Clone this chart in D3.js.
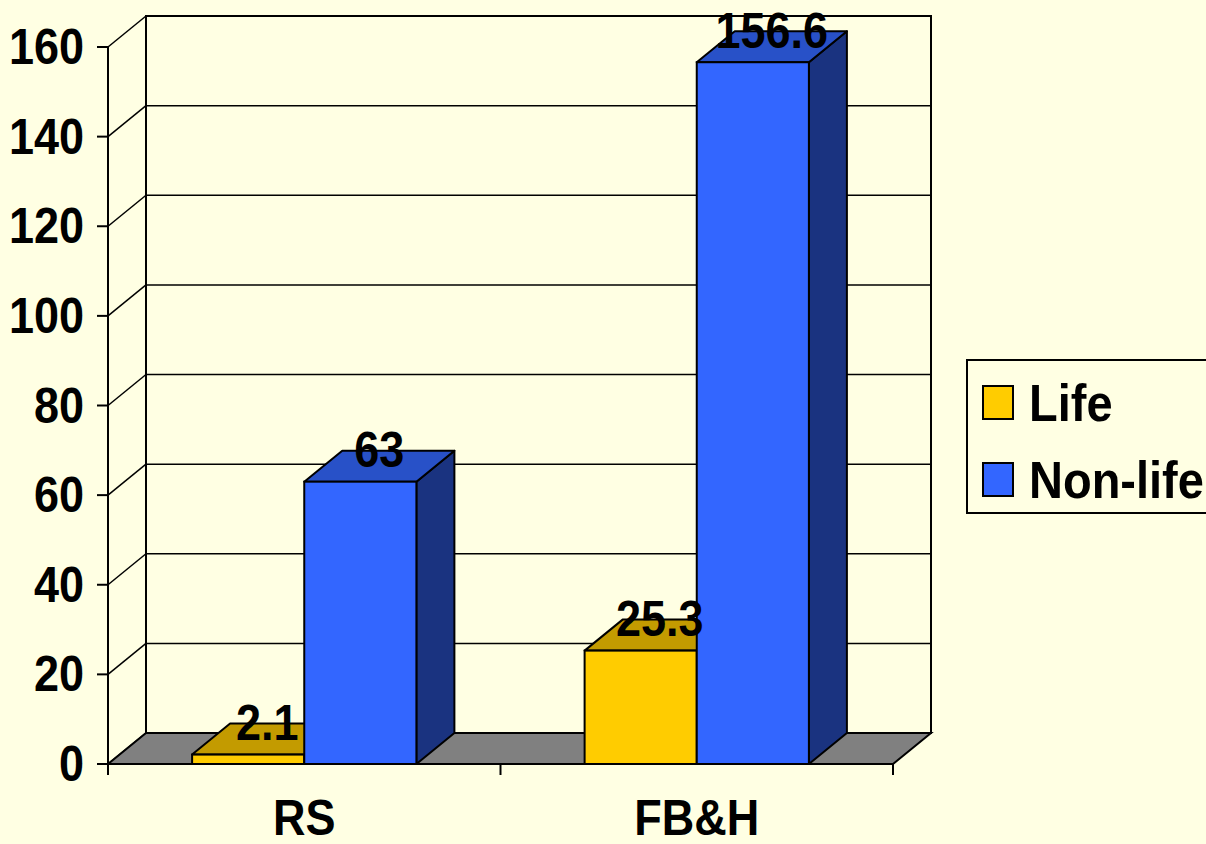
<!DOCTYPE html>
<html>
<head>
<meta charset="utf-8">
<script src="https://cdn.jsdelivr.net/npm/d3@7"></script>
<style>
  html, body { margin: 0; padding: 0; background: #FFFFE3; }
  svg { display: block; }
  text { font-family: "Liberation Sans", Arial, sans-serif; font-weight: bold; fill: #000; }
</style>
</head>
<body>
<svg id="chart" width="1206" height="844"></svg>
<script>
// Premiums by entity, life vs non-life
const categories = ["RS", "FB&H"];
const seriesNames = ["Life", "Non-life"];
const lifeValues = [2.1, 25.3];
const nonLifeValues = [63, 156.6];
const yTicks = [0, 20, 40, 60, 80, 100, 120, 140, 160];

const frontColors = { "Life": "#FFCC00", "Non-life": "#3366FF" };
const topColors = { "Life": "#C39B00", "Non-life": "#2851C8" };
const sideColors = { "Life": "#997A00", "Non-life": "#1A3380" };

const svg = d3.select("#chart");
const W = 1206, H = 844;
svg.append("rect").attr("width", W).attr("height", H).attr("fill", "#FFFFE3");

// Oblique depth of the 3D box
const DX = 38, DY = -31;
const left = 108, right = 893;
const TEXT_STRETCH = 1.1;

// Bold label, slightly stretched vertically around its baseline
function label(parent, x, y, str, size, anchor) {
  return parent.append("text")
    .attr("transform", `translate(${x},${y}) scale(1,${TEXT_STRETCH})`)
    .attr("text-anchor", anchor)
    .attr("font-size", size)
    .text(str);
}

const y = d3.scaleLinear().domain([0, 160]).range([764, 47]);
const x0 = d3.scaleBand().domain(categories).range([left, right]).padding(0);
const x1 = d3.scaleBand().domain(seriesNames).range([0, x0.bandwidth()])
  .paddingInner(0).paddingOuter(0.75);

const rows = categories.map((c, i) => ({
  cat: c,
  values: [
    { series: "Life", value: lifeValues[i] },
    { series: "Non-life", value: nonLifeValues[i] }
  ]
}));

const line = d3.line();
const y0 = y(0), yTop = y(160);

// Back wall
svg.append("path")
  .attr("d", line([[left + DX, yTop + DY], [right + DX, yTop + DY], [right + DX, y0 + DY], [left + DX, y0 + DY]]) + "Z")
  .attr("fill", "#FFFFE3").attr("stroke", "#000").attr("stroke-width", 2);

// Gridlines on back wall and left wall
const grid = svg.append("g");
yTicks.forEach(t => {
  const yy = y(t);
  grid.append("line")
    .attr("x1", left + DX).attr("x2", right + DX)
    .attr("y1", yy + DY).attr("y2", yy + DY)
    .attr("stroke", "#000").attr("stroke-width", t === 160 ? 2 : 1.5);
  grid.append("line")
    .attr("x1", left).attr("x2", left + DX)
    .attr("y1", yy).attr("y2", yy + DY)
    .attr("stroke", "#000").attr("stroke-width", 1.5);
});

// Floor
svg.append("path")
  .attr("d", line([[left, y0], [right, y0], [right + DX, y0 + DY], [left + DX, y0 + DY]]) + "Z")
  .attr("fill", "#808080").attr("stroke", "#000").attr("stroke-width", 2);

// Value axis
svg.append("line")
  .attr("x1", left).attr("x2", left).attr("y1", yTop).attr("y2", y0)
  .attr("stroke", "#000").attr("stroke-width", 2);
const yAxisG = svg.append("g");
yTicks.forEach(t => {
  yAxisG.append("line")
    .attr("x1", left - 11).attr("x2", left)
    .attr("y1", y(t)).attr("y2", y(t))
    .attr("stroke", "#000").attr("stroke-width", 2);
  label(yAxisG, left - 24, y(t) + 17, t, 45, "end");
});

// Category axis ticks and labels
[left, left + x0.bandwidth(), right].forEach(xx => {
  svg.append("line")
    .attr("x1", xx).attr("x2", xx).attr("y1", y0).attr("y2", y0 + 11)
    .attr("stroke", "#000").attr("stroke-width", 2);
});
categories.forEach(c => {
  label(svg, x0(c) + x0.bandwidth() / 2, 835, c, 45, "middle");
});

// Bars: side, top and front faces
const bars = svg.append("g");
rows.forEach(r => {
  r.values.forEach(v => {
    const xl = x0(r.cat) + x1(v.series);
    const xr = xl + x1.bandwidth();
    const yt = y(v.value);
    const g = bars.append("g");
    g.append("path")
      .attr("d", line([[xr, y0], [xr + DX, y0 + DY], [xr + DX, yt + DY], [xr, yt]]) + "Z")
      .attr("fill", sideColors[v.series]).attr("stroke", "#000").attr("stroke-width", 2)
      .attr("stroke-linejoin", "round");
    g.append("path")
      .attr("d", line([[xl, yt], [xr, yt], [xr + DX, yt + DY], [xl + DX, yt + DY]]) + "Z")
      .attr("fill", topColors[v.series]).attr("stroke", "#000").attr("stroke-width", 2)
      .attr("stroke-linejoin", "round");
    g.append("rect")
      .attr("x", xl).attr("y", yt).attr("width", xr - xl).attr("height", y0 - yt)
      .attr("fill", frontColors[v.series]).attr("stroke", "#000").attr("stroke-width", 2);
  });
});

// Value labels centred on each bar's top face
rows.forEach(r => {
  r.values.forEach(v => {
    const xl = x0(r.cat) + x1(v.series);
    const cx = xl + x1.bandwidth() / 2 + DX / 2;
    const cy = y(v.value) + DY / 2;
    label(svg, cx, cy + 1, v.value, 45, "middle");
  });
});

// Legend
const legend = svg.append("g");
legend.append("rect")
  .attr("x", 967).attr("y", 360).attr("width", 260).attr("height", 153)
  .attr("fill", "#FFFFE3").attr("stroke", "#000").attr("stroke-width", 2);
seriesNames.forEach((s, i) => {
  const ly = 386 + i * 77;
  legend.append("rect")
    .attr("x", 983).attr("y", ly).attr("width", 30).attr("height", 33)
    .attr("fill", frontColors[s]).attr("stroke", "#000").attr("stroke-width", 2);
  label(legend, 1029, ly + 35, s, 47, "start");
});
</script>
</body>
</html>
